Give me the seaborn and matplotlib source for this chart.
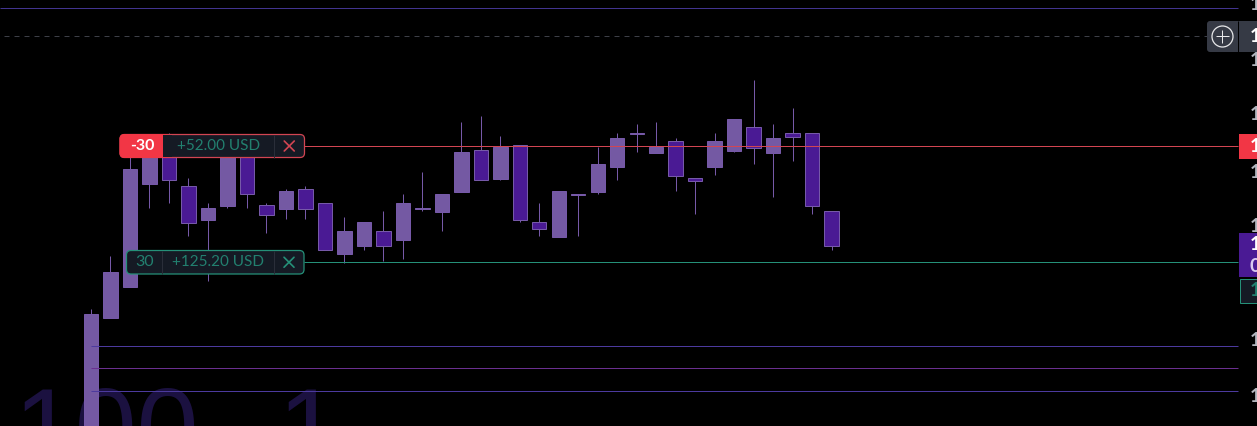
import matplotlib
matplotlib.use("Agg")
import matplotlib.pyplot as plt
import numpy as np
import pandas as pd
import seaborn as sns
from matplotlib.patches import Circle, FancyBboxPatch, Rectangle

# candle readings, in chart units measured down from the top of the pane
body_top = [314, 272, 169, 150, 150, 186, 208, 140, 150, 205, 191, 189, 203, 231, 222, 231, 203, 208, 194, 152,
            150, 147, 145, 222, 191, 194, 164, 138, 133, 147, 141, 178, 141, 119, 127, 138, 133, 133, 211]
body_bottom = [440, 318, 287, 184, 180, 223, 220, 206, 194, 215, 209, 209, 250, 254, 246, 246, 240, 209, 212, 192,
               180, 179, 220, 229, 237, 195, 192, 167, 134, 153, 176, 181, 167, 151, 148, 153, 137, 206, 246]
wick_top = [309, 256, 140, 150, 133, 178, 203, 140, 150, 203, 189, 186, 203, 217, 222, 211, 194, 172, 194, 122,
            116, 136, 145, 203, 191, 194, 147, 133, 124, 122, 138, 178, 133, 119, 80, 124, 108, 133, 211]
wick_bottom = [440, 318, 287, 208, 203, 236, 281, 208, 208, 233, 219, 219, 250, 263, 250, 261, 259, 211, 231, 192,
               180, 180, 222, 236, 237, 236, 194, 180, 152, 153, 191, 214, 175, 152, 164, 197, 161, 214, 250]
is_light = [1, 1, 1, 1, 0, 0, 1, 1, 0, 0, 1, 0, 0, 1, 1, 0, 1, 1, 1, 1,
            0, 1, 0, 0, 1, 1, 1, 1, 1, 1, 0, 0, 1, 1, 0, 1, 0, 0, 0]

purple_levels = [8, 346, 391]
magenta_level = 368
stop_level = 146
target_level = 262
cursor_level = 36
axis_tick_rows = [5, 60, 115, 172, 227, 340, 396]

LIGHT = "#7459a3"
DARK = "#4a1a94"
EDGE = "#7659a8"
RED = "#f23645"
RED_LINE = "#d24552"
GREEN_LINE = "#259078"
TEAL = "#22806f"
PANEL = "#151a24"
ONE_PX = 0.72

sns.set_theme(style="dark", rc={"axes.facecolor": "black", "figure.facecolor": "black"})
plt.rcParams["font.family"] = ["Lato", "DejaVu Sans"]

df = pd.DataFrame({
    "bar": np.arange(len(body_top)),
    "top": body_top,
    "bottom": body_bottom,
    "high": wick_top,
    "low": wick_bottom,
    "light": is_light,
})
df["height"] = df["bottom"] - df["top"]

fig = plt.figure(figsize=(12.57, 4.26), dpi=100)
ax = fig.add_axes([0, 0, 1, 1])
step = 19.49
xlim = (-91 / step, (1257 - 91) / step)

ax.vlines(df["bar"], df["high"], df["low"], color=EDGE, lw=ONE_PX, zorder=2)
for flag, fill in [(1, LIGHT), (0, DARK)]:
    part = df[df["light"] == flag]
    sns.barplot(data=part, x="bar", y="height", bottom=part["top"], native_scale=True, width=0.74,
                color=fill, saturation=1, errorbar=None, edgecolor=EDGE, linewidth=ONE_PX, ax=ax, zorder=3)
ax.set_xlim(*xlim)
ax.set_ylim(426, 0)
ax.set_axis_off()

# overlay in screen pixels for the trading widgets
ui = fig.add_axes([0, 0, 1, 1], facecolor="none")
ui.set_xlim(0, 1257)
ui.set_ylim(426, 0)
ui.set_axis_off()

# watermark sits behind the candles
for x, s in [(14, "100"), (278, "1")]:
    ax.text(xlim[0] + x / step, 466, s, color="#1b1140", fontsize=80, zorder=1, ha="left", va="baseline",
            family="Liberation Sans")

ui.hlines(purple_levels[0], 0, 1238, color="#42348f", lw=ONE_PX)
ui.hlines(purple_levels[1:], 91, 1238, color="#4c3a9e", lw=ONE_PX)
ui.hlines(magenta_level, 91, 1238, color="#6a2f8f", lw=ONE_PX)
ui.hlines(cursor_level, 4, 1207, color="#3d3f47", lw=ONE_PX, linestyles=(0, (5, 5)))
ui.hlines(stop_level, 304, 1238, color=RED_LINE, lw=ONE_PX)
ui.hlines(target_level, 304, 1238, color=GREEN_LINE, lw=ONE_PX)


def order_label(x0, x1, y0, y1, color, qty, profit, div0, div1, profit_x, filled):
    ui.add_patch(FancyBboxPatch((x0, y0), x1 - x0, y1 - y0, boxstyle="round,pad=0,rounding_size=4.5",
                                fc=PANEL, ec=color, lw=0.9, zorder=5))
    if filled:
        ui.add_patch(FancyBboxPatch((x0, y0), div0 - x0 + 6, y1 - y0, boxstyle="round,pad=0,rounding_size=4.5",
                                    fc=RED, ec=RED, lw=ONE_PX, zorder=5))
        ui.add_patch(Rectangle((div0, y0 + 0.7), 9, y1 - y0 - 1.4, fc=PANEL, ec="none", zorder=5))
    else:
        ui.vlines(div0, y0, y1, color="#2a2e39", lw=ONE_PX, zorder=6)
    ui.vlines(div1, y0, y1, color="#2a2e39", lw=ONE_PX, zorder=6)
    ui.text((x0 + div0) / 2 + (1 if filled else 0), (y0 + y1) / 2, qty, ha="center", va="center",
            fontsize=11.5, color="white" if filled else TEAL, fontweight="bold" if filled else "normal", zorder=7)
    ui.text(profit_x, (y0 + y1) / 2, profit, ha="center", va="center", fontsize=11, color=TEAL, zorder=7)
    cx, cy = (div1 + x1) / 2, (y0 + y1) / 2
    ui.plot([cx - 5, cx + 5], [cy - 5, cy + 5], color=color, lw=1.2, zorder=7)
    ui.plot([cx - 5, cx + 5], [cy + 5, cy - 5], color=color, lw=1.2, zorder=7)


order_label(120, 304.5, 134.5, 157.5, RED_LINE, "-30", "+52.00 USD", 163, 274, 218.5, True)
order_label(126.5, 304, 250.5, 274, GREEN_LINE, "30", "+125.20 USD", 162, 274, 218.5, False)

# right price scale, clipped by the screenshot
for row in axis_tick_rows:
    ui.text(1250, row, "1", color="#b2b5be", fontsize=14, va="center", ha="left", fontweight="bold")

ui.add_patch(FancyBboxPatch((1207, 21), 60, 31, boxstyle="round,pad=0,rounding_size=3", fc="#363a45", ec="none",
                            zorder=5))
ui.vlines(1238, 21, 52, color="black", lw=ONE_PX, zorder=6)
ui.add_patch(Circle((1222.5, 36.5), 10.5, fc="none", ec="#e8e8ea", lw=0.9, zorder=6))
ui.hlines(36, 1216, 1229, color="#e8e8ea", lw=ONE_PX, zorder=6)
ui.vlines(1222, 30, 43, color="#e8e8ea", lw=ONE_PX, zorder=6)
ui.text(1250, 36.5, "1", color="white", fontsize=14, fontweight="bold", va="center", zorder=7)

ui.add_patch(Rectangle((1239, 134), 18, 25, fc=RED, ec="none", zorder=5))
ui.text(1250, 146.5, "1", color="white", fontsize=14, fontweight="bold", va="center", zorder=7)

ui.add_patch(Rectangle((1239, 233), 18, 44, fc=DARK, ec="none", zorder=5))
ui.text(1250, 245, "1", color="white", fontsize=14, fontweight="bold", va="center", zorder=7)
ui.text(1250, 266, "0", color="#d9c8f0", fontsize=14, fontweight="bold", va="center", zorder=7)

ui.add_patch(Rectangle((1239.5, 278.5), 18, 24, fc=PANEL, ec=GREEN_LINE, lw=ONE_PX, zorder=5))
ui.text(1250, 290.5, "1", color=TEAL, fontsize=14, fontweight="bold", va="center", zorder=7)

fig.savefig("out.png", dpi=100, facecolor="black")
